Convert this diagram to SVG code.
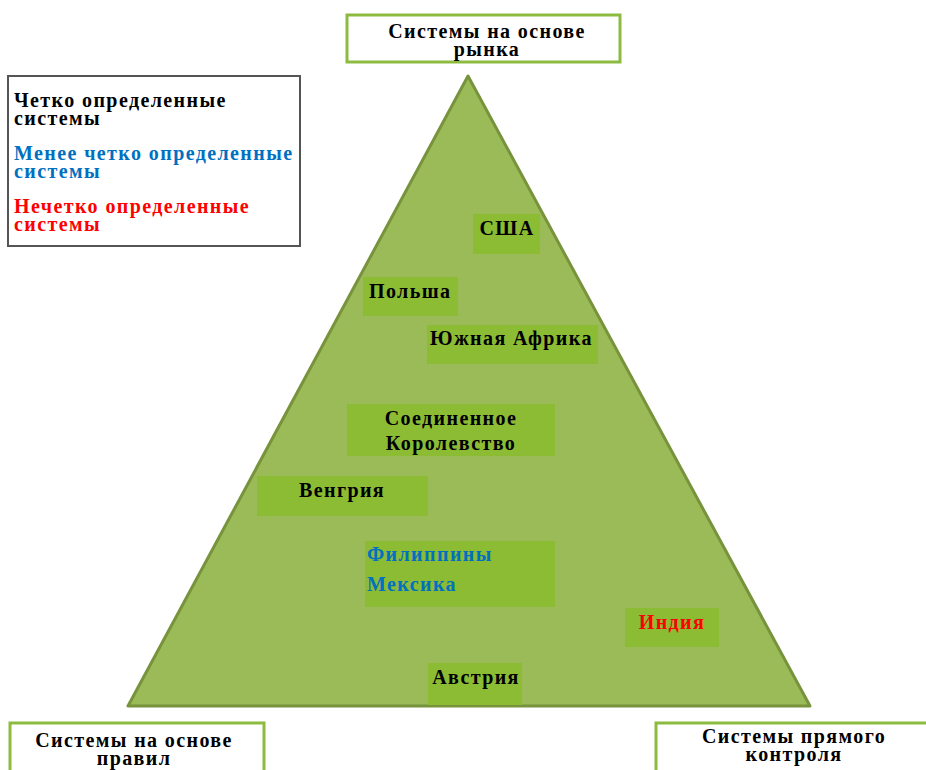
<svg xmlns="http://www.w3.org/2000/svg" width="926" height="770" viewBox="0 0 926 770">
<style>
text{font-family:"Liberation Serif","Times New Roman",serif;font-weight:bold;font-size:20px;letter-spacing:1.4px;fill:#000}
.c{text-anchor:middle}
.blue{fill:#0070c0}
.red{fill:#ff0000}
.hdr{fill:#fff;stroke:#8cbb40;stroke-width:3}
.box{fill:#8cbb34}
</style>
<rect width="926" height="770" fill="#fff"/>
<g id="top">
<rect class="hdr" x="347" y="15" width="273" height="47"/>
<text class="c" x="487" y="38">Системы на основе</text>
<text class="c" x="487" y="56">рынка</text>
</g>
<g id="legend">
<rect x="8" y="76" width="292" height="170" fill="#fff" stroke="#555" stroke-width="2"/>
<text x="14" y="107">Четко определенные</text>
<text x="14" y="125">системы</text>
<text class="blue" x="14" y="160">Менее четко определенные</text>
<text class="blue" x="14" y="178">системы</text>
<text class="red" x="14" y="213">Нечетко определенные</text>
<text class="red" x="14" y="231">системы</text>
</g>
<g id="pyramid">
<polygon points="468,76 128,706 810,706" fill="#9bbb59" stroke="#77933c" stroke-width="3" stroke-linejoin="round"/>
</g>
<g id="usa"><rect class="box" x="473" y="214" width="67" height="40"/><text class="c" x="507" y="235">США</text></g>
<g id="poland"><rect class="box" x="363" y="277" width="95" height="39"/><text x="369" y="298">Польша</text></g>
<g id="safrica"><rect class="box" x="427" y="325" width="171" height="39"/><text x="430" y="345">Южная Африка</text></g>
<g id="uk"><rect class="box" x="347" y="404" width="208" height="52"/><text class="c" x="451" y="425">Соединенное</text><text class="c" x="451" y="450">Королевство</text></g>
<g id="hungary"><rect class="box" x="257" y="476" width="171" height="40"/><text class="c" x="342" y="497">Венгрия</text></g>
<g id="philmex"><rect class="box" x="365" y="541" width="190" height="66"/><text class="blue" x="367" y="561">Филиппины</text><text class="blue" x="367" y="591">Мексика</text></g>
<g id="india"><rect class="box" x="625" y="608" width="94" height="39"/><text class="c red" x="672" y="629">Индия</text></g>
<g id="austria"><rect class="box" x="428" y="663" width="94" height="42"/><text class="c" x="476" y="684">Австрия</text></g>
<g id="rules">
<rect class="hdr" x="10" y="723" width="254" height="60"/>
<text class="c" x="134" y="747">Системы на основе</text>
<text class="c" x="134" y="765">правил</text>
</g>
<g id="direct">
<rect class="hdr" x="656" y="723" width="280" height="60"/>
<text class="c" x="794" y="743">Системы прямого</text>
<text class="c" x="794" y="761">контроля</text>
</g>
<g id="connectors"/>
</svg>
